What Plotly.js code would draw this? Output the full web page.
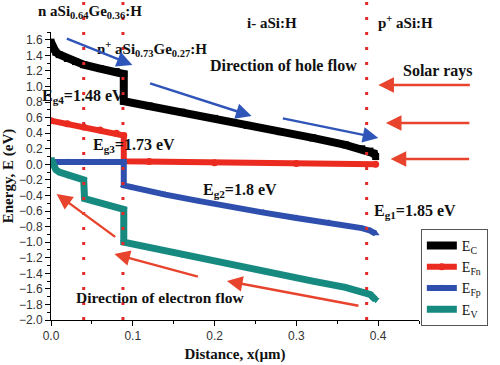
<!DOCTYPE html>
<html>
<head>
<meta charset="utf-8">
<script src="https://cdn.plot.ly/plotly-3.0.1.min.js"></script>
<style>html,body{margin:0;padding:0;background:#fff;}#chart{width:500px;height:365px;}</style>
</head>
<body>
<div id="chart"></div>
<script>
// Data
const distC = [0, 0.003, 0.006, 0.01, 0.02, 0.03, 0.04, 0.06, 0.08, 0.089, 0.089, 0.12, 0.16, 0.2, 0.24, 0.28, 0.32, 0.36, 0.38, 0.39, 0.395, 0.397];
const EC    = [1.57, 1.48, 1.44, 1.41, 1.36, 1.32, 1.28, 1.23, 1.19, 1.16, 0.81, 0.75, 0.67, 0.59, 0.50, 0.42, 0.34, 0.25, 0.20, 0.17, 0.14, 0.10];

const distN = [0, 0.02, 0.04, 0.06, 0.08, 0.089, 0.089, 0.12, 0.2, 0.3, 0.397];
const EFn   = [0.56, 0.52, 0.48, 0.44, 0.40, 0.37, 0.04, 0.035, 0.02, 0.01, 0.0];

const distP = [0, 0.02, 0.04, 0.06, 0.089, 0.089, 0.1, 0.14, 0.18, 0.22, 0.26, 0.3, 0.34, 0.38, 0.39, 0.397];
const EFp   = [0.03, 0.03, 0.03, 0.03, 0.03, -0.27, -0.30, -0.39, -0.47, -0.55, -0.62, -0.69, -0.75, -0.82, -0.85, -0.89];

const distV = [0, 0.003, 0.006, 0.01, 0.02, 0.03, 0.04, 0.041, 0.05, 0.07, 0.089, 0.089, 0.12, 0.16, 0.2, 0.24, 0.28, 0.32, 0.36, 0.38, 0.39, 0.397];
const EV    = [0.07, -0.02, -0.07, -0.10, -0.14, -0.17, -0.20, -0.44, -0.47, -0.52, -0.58, -1.00, -1.07, -1.16, -1.24, -1.33, -1.41, -1.50, -1.58, -1.63, -1.67, -1.74];

const seriesNames = ['E<sub>C</sub>', 'E<sub>Fn</sub>', 'E<sub>Fp</sub>', 'E<sub>V</sub>'];
const boundaries = [0.040, 0.088, 0.386];

// layout geometry
const L = 51, T = 32, W = 389, H = 288;
const XR = [0, 0.45], YR = [-2.0, 1.7];
function dx(px){ return XR[0] + (px - L) / W * (XR[1] - XR[0]); }
function dy(py){ return YR[1] - (py - T) / H * (YR[1] - YR[0]); }
function ppx(px){ return (px - L) / W; }
function ppy(py){ return 1 - (py - T) / H; }

const serif = 'Liberation Serif, Times New Roman, serif';
const sans = 'Liberation Sans, Arial, sans-serif';

function trace(x, y, name, color, symbol, w){
  return {x: x, y: y, name: name, type: 'scatter', mode: 'lines+markers',
    line: {color: color, width: w},
    marker: {color: color, size: 7, symbol: symbol}};
}
const data = [
  trace(distC, EC, seriesNames[0], '#000000', 'square', 8),
  trace(distN, EFn, seriesNames[1], '#ec2b20', 'circle', 6),
  trace(distP, EFp, seriesNames[2], '#2f4fae', 'triangle-up', 6),
  trace(distV, EV, seriesNames[3], '#178a80', 'triangle-down', 7)
];

function label(cx, cy, text, size){
  return {x: ppx(cx), y: ppy(cy), xref: 'paper', yref: 'paper', text: '<b>' + text + '</b>', showarrow: false,
    font: {family: serif, size: size || 16, color: '#111'}, xanchor: 'center', yanchor: 'middle'};
}
function arrow(tx, ty, hx, hy, color){
  return {x: ppx(hx), y: ppy(hy), xref: 'paper', yref: 'paper', ax: tx - hx, ay: ty - hy, text: '',
    showarrow: true, arrowhead: 2, arrowsize: 1.3, arrowwidth: 2.4, arrowcolor: color, standoff: 0};
}
const blue = '#2f55b8', red = '#e8432c';
const annotations = [
  label(92, 12, 'n aSi<sub>0.64</sub>Ge<sub>0.36</sub>:H', 15),
  label(158, 49, 'n<sup>+</sup> aSi<sub>0.73</sub>Ge<sub>0.27</sub>:H', 15),
  label(285, 23, 'i- aSi:H', 15),
  label(426, 22, 'p<sup>+</sup> aSi:H', 15),
  label(297, 65, 'Direction of hole flow', 16),
  label(460, 71, 'Solar rays', 16),
  label(85, 96, 'E<sub>g4</sub>=1.48 eV', 16),
  label(139, 145, 'E<sub>g3</sub>=1.73 eV', 16),
  label(251, 190, 'E<sub>g2</sub>=1.8 eV', 16),
  label(436, 211, 'E<sub>g1</sub>=1.85 eV', 16),
  label(167, 297, 'Direction of electron flow', 15.5),
  arrow(70, 38, 137, 65, blue),
  arrow(160, 83, 263, 116, blue),
  arrow(300, 118, 397, 138, blue),
  arrow(490, 85, 397, 85, red),
  arrow(490, 123, 405, 123, red),
  arrow(490, 159, 410, 159, red),
  arrow(117, 238, 57, 194, red),
  arrow(203, 277, 118, 254, red),
  arrow(370, 306, 237, 281, red)
];

const shapes = boundaries.map(b => ({type: 'line', xref: 'x', yref: 'paper', x0: b, x1: b, y0: 0, y1: 1 + T / H,
  line: {color: '#e02a2a', width: 3, dash: '3px,12px'}}));

const axisCommon = {showgrid: false, zeroline: false, showline: true, linecolor: '#000', linewidth: 1,
  ticks: 'outside', ticklen: 5, tickcolor: '#000', tickfont: {family: sans, size: 12, color: '#333'}};

const layout = {
  width: 500, height: 365,
  margin: {l: L, r: 500 - L - W, t: T, b: 365 - T - H},
  paper_bgcolor: '#fff', plot_bgcolor: '#fff',
  showlegend: true,
  xaxis: Object.assign({}, axisCommon, {range: XR, dtick: 0.1, tick0: 0, tickformat: '.1f',
    minor: {dtick: 0.05, ticks: 'outside', ticklen: 3, tickcolor: '#000'},
    title: {text: '<b>Distance, x(µm)</b>', font: {family: serif, size: 15, color: '#111'}, standoff: 6}}),
  yaxis: Object.assign({}, axisCommon, {range: YR, dtick: 0.2, tick0: 0, tickformat: '.1f',
    minor: {dtick: 0.1, ticks: 'outside', ticklen: 3, tickcolor: '#000'},
    title: {text: '<b>Energy, E (eV)</b>', font: {family: serif, size: 15, color: '#111'}, standoff: 2}}),
  legend: {x: 1.005, y: 0.316, xanchor: 'left', yanchor: 'top', bgcolor: '#fff', bordercolor: '#555', borderwidth: 1,
    font: {family: serif, size: 14, color: '#111'}, itemwidth: 30, tracegroupgap: 0},
  annotations: annotations,
  shapes: shapes
};

Plotly.newPlot('chart', data, layout, {staticPlot: true, displayModeBar: false});
</script>
</body>
</html>
